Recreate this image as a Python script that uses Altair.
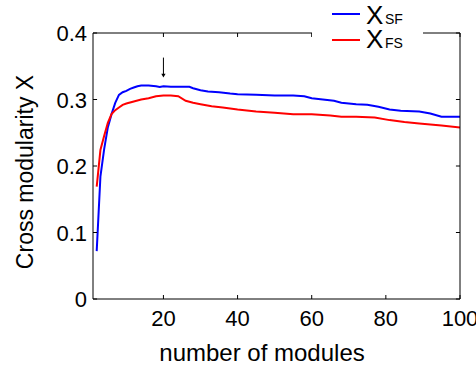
import altair as alt
import pandas as pd

# ---- data ----
sf_x = [2, 3, 4, 5, 6, 7, 8, 9, 10, 11, 12, 13, 14, 16, 18, 19, 20, 22, 24, 26, 27, 28, 30, 32, 35, 38, 40, 45, 50, 55, 58, 60, 63, 66, 68, 72, 75, 78, 81, 84, 89, 92, 95, 100]
sf_y = [0.072, 0.184, 0.225, 0.258, 0.278, 0.295, 0.307, 0.311, 0.313, 0.316, 0.318, 0.320, 0.321, 0.321, 0.320, 0.319, 0.320, 0.319, 0.319, 0.319, 0.319, 0.317, 0.314, 0.312, 0.311, 0.309, 0.308, 0.307, 0.306, 0.306, 0.305, 0.302, 0.300, 0.298, 0.295, 0.293, 0.292, 0.289, 0.285, 0.283, 0.282, 0.279, 0.274, 0.274]

fs_x = [2, 3, 4, 5, 6, 7, 8, 9, 10, 12, 14, 16, 18, 20, 22, 24, 26, 28, 30, 33, 36, 40, 45, 50, 55, 60, 65, 68, 72, 77, 81, 85, 89, 95, 100]
fs_y = [0.169, 0.224, 0.245, 0.265, 0.278, 0.284, 0.288, 0.292, 0.294, 0.297, 0.300, 0.302, 0.305, 0.306, 0.306, 0.305, 0.298, 0.295, 0.293, 0.290, 0.288, 0.285, 0.282, 0.280, 0.278, 0.278, 0.276, 0.274, 0.274, 0.273, 0.269, 0.266, 0.264, 0.261, 0.258]

x_ticks = [20, 40, 60, 80, 100]
x_tick_labels = ["20", "40", "60", "80", "100"]
y_ticks = [0, 0.1, 0.2, 0.3, 0.4]
y_tick_labels = ["0", "0.1", "0.2", "0.3", "0.4"]
x_title = "number of modules"
y_title = "Cross modularity X"
arrow_x = 20
arrow_top = 0.363
arrow_tip = 0.336

W, H = 367, 266
FONT = "Liberation Sans"
XDOM = [1, 100]
YDOM = [0, 0.4]

xs = alt.Scale(domain=XDOM, nice=False, zero=False)
ys = alt.Scale(domain=YDOM, nice=False, zero=False)

def X(f):
    return alt.X(f, scale=xs, axis=None)

def Y(f):
    return alt.Y(f, scale=ys, axis=None)

df = pd.concat([
    pd.DataFrame({"x": sf_x, "y": sf_y, "s": "SF"}),
    pd.DataFrame({"x": fs_x, "y": fs_y, "s": "FS"}),
])

lines = alt.Chart(df).mark_line(strokeWidth=2, clip=True).encode(
    x=X("x:Q"), y=Y("y:Q"),
    color=alt.Color("s:N", scale=alt.Scale(domain=["SF", "FS"], range=["#0000ff", "#ff0000"]), legend=None),
    detail="s:N",
)

# inward ticks
tick_len_y = 0.006
tick_len_x = 1.1
bx = pd.DataFrame({"x": x_ticks, "y": [0] * 5, "y2": [tick_len_y] * 5})
tx = pd.DataFrame({"x": x_ticks, "y": [0.4] * 5, "y2": [0.4 - tick_len_y] * 5})
ly = pd.DataFrame({"y": y_ticks, "x": [1] * 5, "x2": [1 + tick_len_x] * 5})
ry = pd.DataFrame({"y": y_ticks, "x": [100] * 5, "x2": [100 - tick_len_x] * 5})

def vticks(d):
    return alt.Chart(d).mark_rule(color="black", strokeWidth=1).encode(
        x=X("x:Q"), y=Y("y:Q"), y2="y2:Q")

def hticks(d):
    return alt.Chart(d).mark_rule(color="black", strokeWidth=1).encode(
        x=X("x:Q"), x2="x2:Q", y=Y("y:Q"))

# tick labels
xl = pd.DataFrame({"x": x_ticks, "t": x_tick_labels})
yl = pd.DataFrame({"y": y_ticks, "t": y_tick_labels})
x_labels = alt.Chart(xl).mark_text(font=FONT, fontSize=22, color="black", align="center",
                                   baseline="alphabetic").encode(
    x=X("x:Q"), y=alt.value(H + 27), text="t:N")
y_labels = alt.Chart(yl).mark_text(font=FONT, fontSize=22, color="black", align="right",
                                   baseline="alphabetic", dy=8).encode(
    x=alt.value(-6), y=Y("y:Q"), text="t:N")

one = alt.Data(values=[{}])

def frame(**enc):
    return alt.Chart(one).mark_rule(color="black", strokeWidth=1).encode(**enc)

frames = [
    frame(x=alt.value(0), x2=alt.value(W), y=alt.value(0)),
    frame(x=alt.value(0), x2=alt.value(W), y=alt.value(H)),
    frame(x=alt.value(0), y=alt.value(0), y2=alt.value(H)),
    frame(x=alt.value(W), y=alt.value(0), y2=alt.value(H)),
]

def txt(s, x, y, size, align="left", angle=0, baseline="alphabetic"):
    return alt.Chart(one).mark_text(font=FONT, fontSize=size, color="black",
                                    align=align, baseline=baseline, angle=angle).encode(
        x=alt.value(x), y=alt.value(y), text=alt.value(s))

titles = [
    txt(x_title, 169, H + 62, 24, align="center"),
    txt(y_title, -60, 139, 23, align="center", angle=270),
]

# legend box (covers the frame)
legend_bg = alt.Chart(one).mark_rect(color="white").encode(
    x=alt.value(219), x2=alt.value(330), y=alt.value(-33), y2=alt.value(18))
leg_sf = alt.Chart(one).mark_rule(color="#0000ff", strokeWidth=2).encode(
    x=alt.value(239), x2=alt.value(267), y=alt.value(-19))
leg_fs = alt.Chart(one).mark_rule(color="#ff0000", strokeWidth=2).encode(
    x=alt.value(239), x2=alt.value(267), y=alt.value(7))

leg_texts = [txt("X", 273, -9, 26), txt("SF", 292, -9, 14),
             txt("X", 273, 15, 26), txt("FS", 292, 15, 14)]

# arrow
arrow_df = pd.DataFrame({"x": [arrow_x], "y": [arrow_top], "y2": [arrow_tip]})
arrow_line = alt.Chart(arrow_df).mark_rule(color="black", strokeWidth=1).encode(
    x=X("x:Q"), y=Y("y:Q"), y2="y2:Q")
arrow_head = alt.Chart(arrow_df).mark_point(shape="triangle-down", filled=True, color="black",
                                            size=18, opacity=1).encode(
    x=X("x:Q"), y=Y("y2:Q"))

chart = alt.layer(
    lines, vticks(bx), vticks(tx), hticks(ly), hticks(ry), *frames,
    x_labels, y_labels, *titles,
    arrow_line, arrow_head, legend_bg, leg_sf, leg_fs, *leg_texts,
).properties(
    width=W, height=H, autosize="none", background="white",
    padding={"left": 93, "top": 33, "right": 16, "bottom": 73},
).configure_view(stroke=None)

chart.save("out.html", embed_options={"renderer": "svg", "actions": False})
